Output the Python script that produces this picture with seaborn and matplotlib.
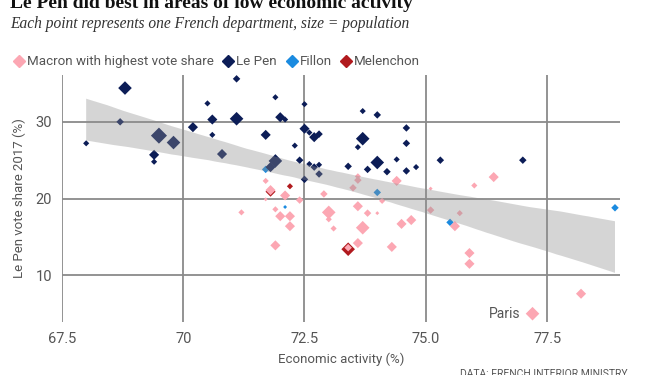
import matplotlib
matplotlib.use("Agg")
import matplotlib.pyplot as plt
import seaborn as sns
import pandas as pd
import numpy as np
from matplotlib.lines import Line2D
from matplotlib.collections import PolyCollection

# ---- data ----
melenchon_x = [72.2, 71.8, 73.4]
melenchon_y = [21.6, 20.9, 13.4]
melenchon_pop = [200, 550, 1000]

fillon_x = [71.7, 72.1, 74.0, 75.5, 78.9]
fillon_y = [23.8, 18.9, 20.8, 16.9, 18.8]
fillon_pop = [300, 80, 300, 300, 300]

lepen_x = [68.0, 68.8, 68.7, 69.4, 69.4, 69.5, 69.8, 70.2, 70.5, 70.6,
           70.6, 70.8, 71.1, 71.1, 71.7, 71.9, 71.8, 71.9, 72.0, 72.1,
           72.5, 72.5, 72.6, 72.7, 72.8, 72.3, 72.4, 72.6, 72.7, 72.8,
           72.8, 72.5, 73.7, 74.0, 73.7, 73.6, 73.4, 73.8, 74.6, 74.6,
           74.4, 74.0, 75.3, 74.2, 74.6, 74.8, 77.0]
lepen_y = [27.2, 34.4, 30.0, 25.7, 24.8, 28.2, 27.3, 29.3, 32.4, 30.3,
           28.3, 25.8, 35.6, 30.4, 28.3, 24.9, 24.1, 33.2, 30.6, 30.3,
           32.3, 29.1, 28.6, 28.0, 28.4, 26.9, 25.0, 24.5, 24.1, 24.4,
           23.2, 22.5, 31.4, 30.9, 27.8, 26.7, 24.2, 23.8, 29.2, 27.2,
           25.1, 24.7, 25.0, 23.5, 23.6, 24.1, 25.0]
lepen_pop = [200, 1000, 300, 550, 200, 1400, 1000, 550, 200, 550,
             200, 550, 300, 1000, 550, 1000, 550, 200, 550, 200,
             200, 550, 200, 550, 300, 200, 300, 200, 300, 200,
             300, 300, 200, 300, 1000, 200, 300, 300, 300, 300,
             200, 1000, 300, 300, 300, 200, 300]

macron_x = [71.7, 71.8, 71.7, 72.1, 72.4, 72.9, 73.6, 73.6, 73.5, 71.2,
            71.9, 72.0, 72.2, 72.2, 71.9, 73.0, 73.0, 73.1, 73.6, 73.8,
            73.7, 73.6, 73.4, 74.4, 76.4, 76.0, 75.1, 74.1, 74.0, 75.1,
            75.7, 74.5, 74.7, 75.6, 74.3, 75.9, 75.9, 78.2, 77.2]
macron_y = [22.3, 21.1, 19.9, 20.4, 19.8, 20.6, 22.9, 22.4, 21.4, 18.2,
            18.6, 17.7, 17.7, 16.4, 13.9, 18.2, 17.3, 16.1, 19.0, 18.1,
            16.2, 14.2, 13.6, 22.3, 22.8, 21.7, 21.3, 19.7, 18.1, 18.5,
            18.1, 16.7, 17.2, 16.4, 13.7, 12.9, 11.5, 7.6, 5.0]
macron_pop = [200, 550, 80, 550, 300, 300, 200, 300, 300, 200,
              200, 550, 550, 550, 550, 1000, 200, 200, 550, 300,
              1000, 550, 300, 550, 550, 200, 80, 200, 80, 300,
              200, 550, 550, 550, 550, 550, 550, 550, 1000]

labels = ["Macron with highest vote share", "Le Pen", "Fillon", "Melenchon"]
colors = ["#fca7b3", "#0c1d57", "#1b8be0", "#b11a1e"]

df = pd.concat([
    pd.DataFrame({"activity": melenchon_x, "lepen": melenchon_y, "pop": melenchon_pop, "winner": "Melenchon"}),
    pd.DataFrame({"activity": fillon_x, "lepen": fillon_y, "pop": fillon_pop, "winner": "Fillon"}),
    pd.DataFrame({"activity": lepen_x, "lepen": lepen_y, "pop": lepen_pop, "winner": "Le Pen"}),
    pd.DataFrame({"activity": macron_x, "lepen": macron_y, "pop": macron_pop, "winner": "Macron with highest vote share"}),
], ignore_index=True)

sns.set_style("white")
plt.rcParams["font.family"] = ["Roboto", "DejaVu Sans"]

fig = plt.figure(figsize=(6.45, 3.75), dpi=100)
ax = fig.add_axes([0.096, 0.141, 0.865, 0.659])

sns.scatterplot(data=df, x="activity", y="lepen", hue="winner", hue_order=labels,
                palette=dict(zip(labels, colors)), size="pop", sizes=(4, 72),
                size_norm=(80, 1500), marker="D", linewidth=0, legend=False,
                ax=ax, zorder=2)

sns.regplot(data=df, x="activity", y="lepen", scatter=False, ci=95, seed=3,
            line_kws={"lw": 0, "alpha": 0}, ax=ax)
for coll in ax.collections:
    if isinstance(coll, PolyCollection):
        coll.set_facecolor("#8f8f8f")
        coll.set_alpha(0.37)
        coll.set_edgecolor("none")
        coll.set_zorder(3)

ax.set_xlim(67.5, 79)
ax.set_ylim(3.9, 36.1)
ax.set_xticks([67.5, 70, 72.5, 75, 77.5])
ax.set_xticklabels(["67.5", "70", "72.5", "75.0", "77.5"])
ax.set_yticks([10, 20, 30])
for s in ax.spines.values():
    s.set_visible(False)
ax.grid(True, color="#8a8a8a", lw=1.3)
ax.set_axisbelow(True)
ax.tick_params(axis="both", colors="#555555", labelsize=10.5, length=3, width=1.3,
               color="#8a8a8a")
ax.tick_params(axis="x", pad=4)
ax.tick_params(axis="y", pad=4)
ax.set_xlabel("Economic activity (%)", color="#555555", fontsize=9.5, labelpad=5)
ax.set_ylabel("Le Pen vote share 2017 (%)", color="#555555", fontsize=9.5, labelpad=7)

ax.text(76.95, 5.0, "Paris", ha="right", va="center", color="#555555", fontsize=10)

handles = [Line2D([], [], marker="D", ls="none", color=c, markersize=6.5) for c in colors]
fig.legend(handles, labels, loc="center left", bbox_to_anchor=(-0.002, 0.835), ncol=4,
           frameon=False, handletextpad=0.0, columnspacing=0.5, fontsize=9.6,
           labelcolor="#555555", handlelength=1.2)

fig.text(0.016, 0.99, "Le Pen did best in areas of low economic activity",
         family=["Liberation Serif", "DejaVu Serif"], weight="bold", fontsize=14,
         va="center", ha="left", color="#111111")
fig.text(0.016, 0.935, "Each point represents one French department, size = population",
         family=["Liberation Serif", "DejaVu Serif"], style="italic", fontsize=11.2,
         va="center", ha="left", color="#333333")
fig.text(0.973, 0.003, "DATA: FRENCH INTERIOR MINISTRY", fontsize=7.5, color="#555555",
         ha="right", va="center")

fig.savefig("out.png", dpi=100)
